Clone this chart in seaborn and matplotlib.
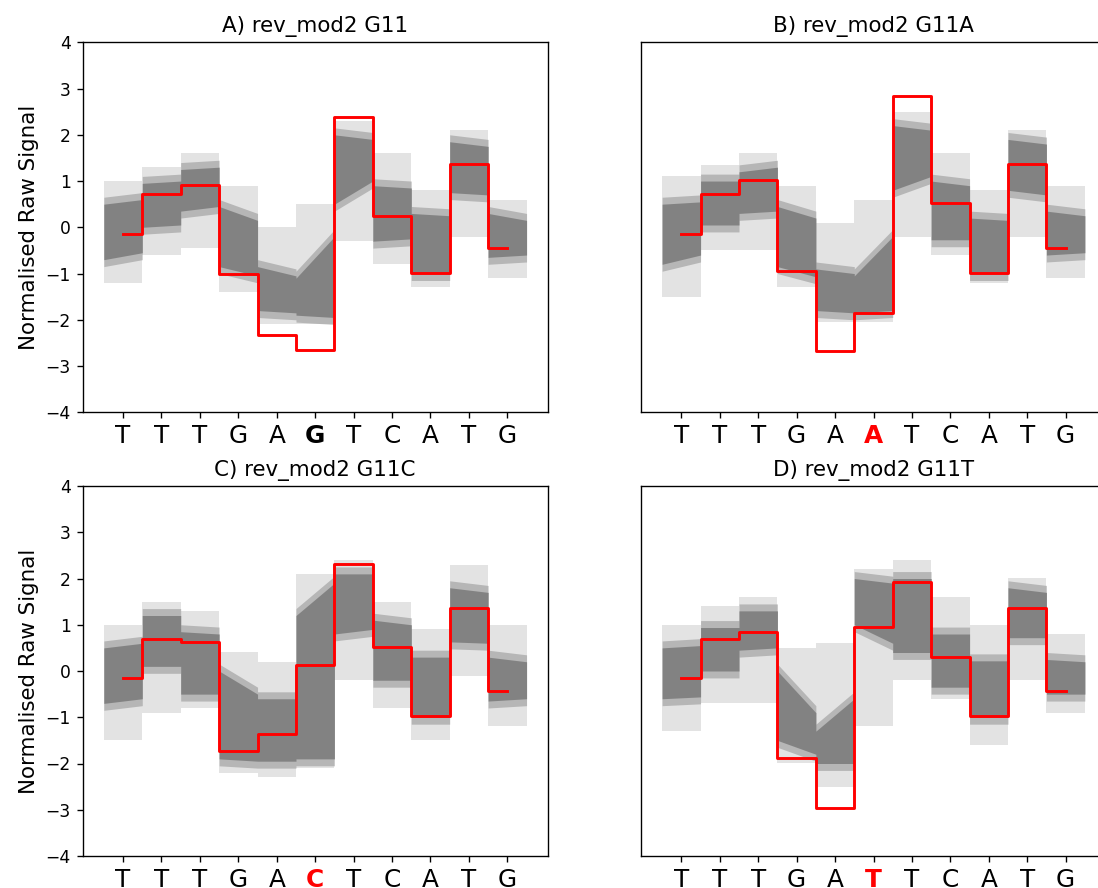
import numpy as np
import pandas as pd
import matplotlib
matplotlib.use("Agg")
import matplotlib.pyplot as plt
import seaborn as sns

# ---------------- data ----------------
bases = ["T", "T", "T", "G", "A", "G", "T", "C", "A", "T", "G"]
center_index = 5
titles = ["A) rev_mod2 G11", "B) rev_mod2 G11A", "C) rev_mod2 G11C", "D) rev_mod2 G11T"]
center_bases = ["G", "A", "C", "T"]
center_colors = ["black", "red", "red", "red"]

# expected (model) signal level per base - red step line
red_A = [-0.15, 0.71, 0.92, -1.00, -2.32, -2.66, 2.38, 0.25, -0.99, 1.36, -0.44]
red_B = [-0.15, 0.71, 1.02, -0.95, -2.67, -1.85, 2.83, 0.52, -0.98, 1.37, -0.44]
red_C = [-0.15, 0.70, 0.63, -1.72, -1.37, 0.14, 2.32, 0.51, -0.98, 1.36, -0.43]
red_D = [-0.15, 0.70, 0.85, -1.89, -2.97, 0.96, 1.93, 0.31, -0.98, 1.36, -0.43]

# dense bulk of the raw-signal traces per base (upper / lower edge, at start and end of base)
coreA_hi_start = [0.50, 0.95, 1.25, 0.45, -0.85, -1.10, 2.00, 0.90, 0.30, 1.85, 0.30]
coreA_hi_end   = [0.60, 1.00, 1.30, 0.15, -1.05, -0.20, 1.90, 0.85, 0.25, 1.75, 0.15]
coreA_lo_start = [-0.70, 0.00, 0.35, -0.85, -1.80, -1.90, 0.50, -0.30, -1.00, 0.75, -0.65]
coreA_lo_end   = [-0.55, 0.05, 0.45, -1.05, -1.85, -1.95, 1.00, -0.25, -1.00, 0.70, -0.60]
haloA_hi = [1.00, 1.30, 1.60, 0.90, 0.00, 0.50, 2.30, 1.60, 0.80, 2.10, 0.60]
haloA_lo = [-1.20, -0.60, -0.45, -1.40, -2.10, -2.10, -0.30, -0.80, -1.30, -0.20, -1.10]

coreB_hi_start = [0.50, 1.00, 1.20, 0.45, -0.90, -1.05, 2.20, 1.00, 0.20, 1.90, 0.35]
coreB_hi_end   = [0.55, 1.00, 1.30, 0.20, -1.00, -0.20, 2.10, 0.90, 0.15, 1.80, 0.25]
coreB_lo_start = [-0.80, 0.05, 0.30, -0.85, -1.80, -1.85, 0.80, -0.27, -1.00, 0.80, -0.60]
coreB_lo_end   = [-0.60, 0.05, 0.35, -1.07, -1.85, -1.80, 1.10, -0.27, -1.00, 0.70, -0.55]
haloB_hi = [1.10, 1.35, 1.60, 0.90, 0.10, 0.60, 2.50, 1.60, 0.80, 2.10, 0.90]
haloB_lo = [-1.50, -0.50, -0.50, -1.30, -2.05, -2.05, -0.20, -0.60, -1.20, -0.20, -1.10]

coreC_hi_start = [0.50, 1.20, 0.85, 0.00, -0.60, 1.20, 2.10, 1.10, 0.30, 1.80, 0.30]
coreC_hi_end   = [0.60, 1.20, 0.80, -0.50, -0.60, 1.90, 2.10, 1.00, 0.30, 1.70, 0.20]
coreC_lo_start = [-0.70, 0.10, -0.50, -1.90, -1.95, -1.90, 0.80, -0.20, -1.00, 0.63, -0.65]
coreC_lo_end   = [-0.60, 0.10, -0.50, -1.95, -1.95, -1.90, 0.90, -0.20, -1.00, 0.60, -0.60]
haloC_hi = [1.00, 1.50, 1.30, 0.40, 0.20, 2.10, 2.40, 1.50, 0.90, 2.30, 1.00]
haloC_lo = [-1.50, -0.90, -0.80, -2.20, -2.30, -2.10, -0.20, -0.80, -1.50, -0.10, -1.20]

coreD_hi_start = [0.50, 0.94, 1.30, 0.00, -1.30, 2.00, 2.00, 0.80, 0.22, 1.80, 0.25]
coreD_hi_end   = [0.55, 0.94, 1.30, -0.90, -0.60, 1.90, 2.00, 0.80, 0.22, 1.70, 0.20]
coreD_lo_start = [-0.60, 0.00, 0.45, -1.50, -2.00, 1.00, 0.40, -0.35, -1.00, 0.72, -0.50]
coreD_lo_end   = [-0.56, 0.00, 0.50, -1.80, -2.00, 0.60, 0.40, -0.35, -1.00, 0.72, -0.50]
haloD_hi = [1.00, 1.40, 1.60, 0.50, 0.60, 2.20, 2.40, 1.60, 1.00, 2.00, 0.80]
haloD_lo = [-1.30, -0.70, -0.70, -2.00, -2.50, -1.20, -0.20, -0.60, -1.60, -0.20, -0.90]

panels = [
    (red_A, coreA_hi_start, coreA_hi_end, coreA_lo_start, coreA_lo_end, haloA_hi, haloA_lo),
    (red_B, coreB_hi_start, coreB_hi_end, coreB_lo_start, coreB_lo_end, haloB_hi, haloB_lo),
    (red_C, coreC_hi_start, coreC_hi_end, coreC_lo_start, coreC_lo_end, haloC_hi, haloC_lo),
    (red_D, coreD_hi_start, coreD_hi_end, coreD_lo_start, coreD_lo_end, haloD_hi, haloD_lo),
]

# ---------------- figure ----------------
DPI = 123
W, H = 1098, 888
fig = plt.figure(figsize=(W / DPI, H / DPI), dpi=DPI)

ax_w, ax_h = 465 / W, 370 / H
lefts = [82.7 / W, 641 / W]
bottoms = [(H - 412.3) / H, (H - 856) / H]
positions = [(lefts[0], bottoms[0]), (lefts[1], bottoms[0]),
             (lefts[0], bottoms[1]), (lefts[1], bottoms[1])]


def seg_polyline(start_vals, end_vals):
    xs, ys = [], []
    for k in range(len(start_vals)):
        xs += [k - 0.5, k + 0.5]
        ys += [start_vals[k], end_vals[k]]
    return np.array(xs), np.array(ys)


for i, (pos, data) in enumerate(zip(positions, panels)):
    red, chs, che, cls, cle, hh, hl = data
    ax = fig.add_axes([pos[0], pos[1], ax_w, ax_h])

    # halo of sparser traces
    xh, yh_hi = seg_polyline(hh, hh)
    _, yh_lo = seg_polyline(hl, hl)
    ax.fill_between(xh, yh_lo, yh_hi, color="gray", alpha=0.22, linewidth=0)
    # dense bulk of traces (soft edge + solid core)
    xc, yc_hi = seg_polyline(chs, che)
    _, yc_lo = seg_polyline(cls, cle)
    ax.fill_between(xc, yc_lo - 0.15, yc_hi + 0.15, color="gray", alpha=0.45, linewidth=0)
    ax.fill_between(xc, yc_lo, yc_hi, color="gray", alpha=0.95, linewidth=0)

    df = pd.DataFrame({"pos": np.arange(len(bases)), "level": red})
    sns.lineplot(data=df, x="pos", y="level", ax=ax, color="red",
                 linewidth=1.7, drawstyle="steps-mid", zorder=5)

    ax.set_xlim(-1.05, 11.05)
    ax.set_ylim(-4, 4)
    labels = list(bases)
    labels[center_index] = center_bases[i]
    ax.set_xticks(np.arange(len(labels)))
    ax.set_xticklabels(labels, fontsize=14.5)
    lab = ax.get_xticklabels()[center_index]
    lab.set_fontweight("bold")
    lab.set_color(center_colors[i])
    ax.set_xlabel("")
    ax.set_title(titles[i], fontsize=12.5)
    if i % 2 == 0:
        ax.set_yticks(np.arange(-4, 5, 1))
        ax.set_ylabel("Normalised Raw Signal", fontsize=12.5)
    else:
        ax.set_yticks([])
        ax.set_ylabel("")

fig.savefig("out.png", dpi=DPI)
